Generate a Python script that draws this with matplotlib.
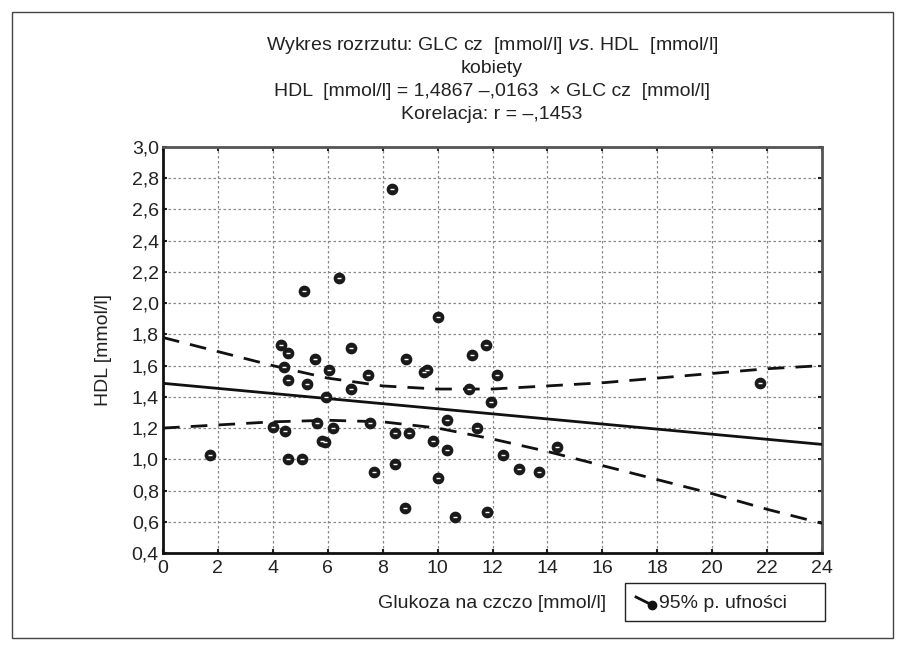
import matplotlib
matplotlib.use('Agg')
import matplotlib.pyplot as plt
from matplotlib.patches import Rectangle
from matplotlib.lines import Line2D
import numpy as np

plt.rcParams['font.family'] = ['Liberation Sans Narrow', 'Liberation Sans', 'DejaVu Sans']

# dane
glc = [1.7, 4.0, 4.3, 4.4, 4.45, 4.55, 4.55, 4.55, 5.05, 5.15,
       5.25, 5.55, 5.6, 5.8, 5.9, 5.95, 6.05, 6.2, 6.4, 6.85,
       6.85, 7.45, 7.55, 7.7, 8.35, 8.45, 8.45, 8.8, 8.85, 8.95,
       9.5, 9.6, 9.85, 10.0, 10.0, 10.35, 10.35, 10.65, 11.15, 11.25,
       11.45, 11.75, 11.8, 11.95, 12.15, 12.4, 12.95, 13.7, 14.35, 21.75]
hdl = [1.03, 1.21, 1.73, 1.59, 1.18, 1.68, 1.51, 1.00, 1.00, 2.08,
       1.48, 1.64, 1.23, 1.12, 1.11, 1.40, 1.57, 1.20, 2.16, 1.71,
       1.45, 1.54, 1.23, 0.92, 2.73, 1.17, 0.97, 0.69, 1.64, 1.17,
       1.56, 1.57, 1.12, 1.91, 0.88, 1.25, 1.06, 0.63, 1.45, 1.67,
       1.20, 1.73, 0.66, 1.37, 1.54, 1.03, 0.94, 0.92, 1.08, 1.49]

intercept = 1.4867
slope = -0.0163

ci_x = [0, 2, 4, 6, 8, 10, 12, 14, 16, 18, 20, 22, 24]
ci_upper = [1.78, 1.69, 1.60, 1.52, 1.47, 1.45, 1.45, 1.47, 1.49, 1.52, 1.55, 1.58, 1.60]
ci_lower = [1.20, 1.22, 1.24, 1.25, 1.24, 1.20, 1.13, 1.05, 0.96, 0.87, 0.78, 0.68, 0.59]

x_ticks = list(range(0, 25, 2))
y_ticks = [0.4, 0.6, 0.8, 1.0, 1.2, 1.4, 1.6, 1.8, 2.0, 2.2, 2.4, 2.6, 2.8, 3.0]

title_lines = ['Wykres rozrzutu: GLC cz  [mmol/l] $\\it{vs}$. HDL  [mmol/l]',
               'kobiety',
               'HDL  [mmol/l] = 1,4867 \u2013,0163  \u00d7 GLC cz  [mmol/l]',
               'Korelacja: r = \u2013,1453']

fs = 14

fig = plt.figure(figsize=(9.03, 6.48), dpi=100)
ax = fig.add_axes([163 / 903, 1 - 553 / 648, 659 / 903, 406 / 648])

# ramka wokol rysunku
fig.patches.append(Rectangle((12 / 903, 1 - 638 / 648), 881 / 903, 626 / 648,
                             transform=fig.transFigure, fill=False,
                             edgecolor='#444444', lw=1))

# linia regresji i przedzialy ufnosci
xr = np.array([0, 24])
ax.plot(xr, intercept + slope * xr, color='#111111', lw=2, zorder=3)
ax.plot(ci_x, ci_upper, color='#111111', lw=2, dashes=(6, 4), zorder=3)
ax.plot(ci_x, ci_lower, color='#111111', lw=2, dashes=(6, 4), zorder=3)

ax.scatter(glc, hdl, s=55, color='#1a1a1a', zorder=4)
ax.scatter(glc, hdl, s=6, marker='_', color='white', linewidths=1, zorder=5)

ax.set_xlim(0, 24)
ax.set_ylim(0.4, 3.0)
ax.set_xticks(x_ticks)
ax.set_yticks(y_ticks)
ax.set_xticklabels([str(t) for t in x_ticks])
ax.set_yticklabels([('%.1f' % t).replace('.', ',') for t in y_ticks])
ax.tick_params(direction='in', length=3, width=1.5, labelsize=fs,
               top=True, right=True, pad=3, colors='#222222')
ax.tick_params(axis='x', pad=5)
ax.grid(True, linestyle=(0, (2, 2)), color='#888888', lw=0.9)
for side in ['left', 'bottom']:
    ax.spines[side].set_linewidth(2)
    ax.spines[side].set_color('#111111')
for side in ['top', 'right']:
    ax.spines[side].set_linewidth(2)
    ax.spines[side].set_color('#555555')

ax.set_ylabel('HDL [mmol/l]', fontsize=fs, color='#222222', labelpad=14)

for i, line in enumerate(title_lines):
    fig.text(492 / 903, 1 - (45 + i * 23.3) / 648, line, ha='center', va='center',
             fontsize=fs, color='#222222')

fig.text(492 / 903, 1 - 604 / 648, 'Glukoza na czczo [mmol/l]', ha='center',
         va='center', fontsize=fs, color='#222222')

# legenda
fig.patches.append(Rectangle((625 / 903, 1 - 621 / 648), 200 / 903, 38 / 648,
                             transform=fig.transFigure, fill=False,
                             edgecolor='#222222', lw=1))
fig.lines.append(Line2D([636 / 903, 652 / 903], [1 - 597 / 648, 1 - 605 / 648],
                        transform=fig.transFigure, color='#111111', lw=2))
fig.lines.append(Line2D([652 / 903], [1 - 605 / 648], transform=fig.transFigure,
                        marker='o', markersize=6, color='#111111'))
fig.text(659 / 903, 1 - 603 / 648, '95% p. ufności', ha='left', va='center',
         fontsize=fs, color='#222222')

fig.savefig('out.png', dpi=100)
